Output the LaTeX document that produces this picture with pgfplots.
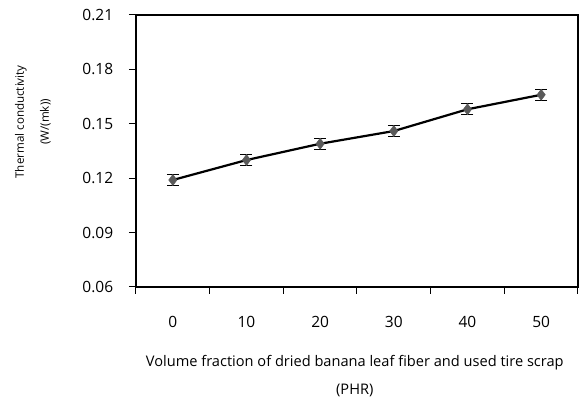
\documentclass[border=0pt]{standalone}
\usepackage{pgfplots}
\pgfplotsset{compat=1.18}
\usepackage{fontspec}
\setmainfont{Open Sans}
\definecolor{mk}{RGB}{90,90,90}
\begin{document}
\begin{tikzpicture}[x=1pt,y=1pt]
\begin{axis}[
  scale only axis,
  width=442pt, height=272pt,
  xmin=-0.5, xmax=5.5,
  ymin=0.06, ymax=0.21,
  ytick={0.06,0.09,...,0.21},
  yticklabel style={/pgf/number format/fixed,/pgf/number format/fixed zerofill,/pgf/number format/precision=2},
  /pgf/number format/assume math mode=true,
  xtick={0,...,5},
  xticklabels={0,10,20,30,40,50},
  minor xtick={-0.5,0.5,...,5.5},
  xtick pos=bottom, ytick pos=left,
  tick align=outside,
  major x tick style={draw=none},
  minor tick length=7pt,
  major tick length=7pt,
  tick style={line width=1pt, black},
  axis line style={line width=1.1pt},
  every axis/.append style={line width=1.1pt},
  ticklabel style={font=\fontsize{15.5}{17}\selectfont},
  xticklabel style={yshift=-18pt},
  yticklabel style={xshift=-12pt},
  clip=false,
]
\addplot[black, line width=2.2pt, mark=diamond*, mark size=5.5pt,
  mark options={fill=mk, draw=mk, line width=0.5pt},
  error bars/.cd, y dir=both, y explicit,
  error bar style={line width=1.2pt, black},
  error mark options={rotate=90, mark size=6pt, line width=1.2pt, black}]
  coordinates {
  (0,0.119) +- (0,0.003)
  (1,0.130) +- (0,0.003)
  (2,0.139) +- (0,0.003)
  (3,0.146) +- (0,0.003)
  (4,0.158) +- (0,0.003)
  (5,0.166) +- (0,0.003)
  };
\node[rotate=90, align=center, font=\fontsize{11.6}{25}\selectfont] at (rel axis cs:-0.233,0.607) {Thermal conductivity\\(W/(mk))};
\node[align=center, font=\fontsize{14.6}{28}\selectfont] at (rel axis cs:0.495,-0.327) {Volume fraction of dried banana leaf fiber and used tire scrap\\(PHR)};
\coordinate (BL) at (rel axis cs:-0.3077,-0.4118);
\coordinate (TR) at (rel axis cs:1.0136,1.0551);
\end{axis}
\pgfresetboundingbox
\path (BL) rectangle (TR);
\end{tikzpicture}
\end{document}
